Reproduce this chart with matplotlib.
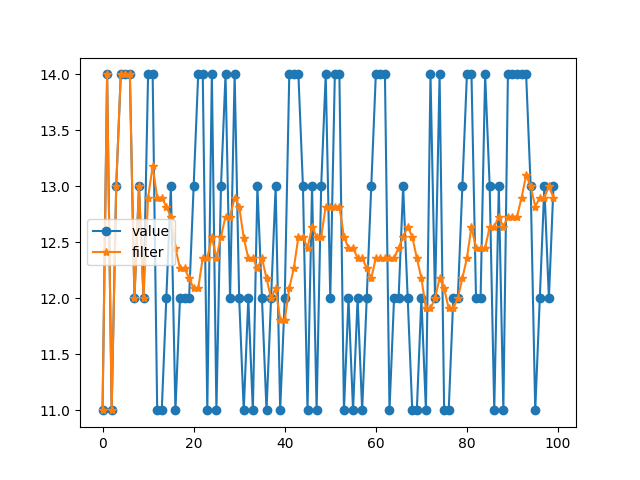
import numpy as np
import matplotlib
matplotlib.use('Agg')
import matplotlib.pyplot as plt

# raw samples
value = [11, 14, 11, 13, 14, 14, 14, 12, 13, 12,
         14, 14, 11, 11, 12, 13, 11, 12, 12, 12,
         13, 14, 14, 11, 14, 11, 13, 14, 12, 14,
         12, 11, 12, 11, 13, 12, 11, 12, 13, 11,
         12, 14, 14, 14, 13, 11, 13, 11, 13, 14,
         12, 14, 14, 11, 12, 11, 12, 11, 12, 13,
         14, 14, 14, 11, 12, 12, 13, 12, 11, 11,
         12, 11, 14, 12, 14, 11, 11, 12, 12, 13,
         14, 14, 12, 12, 14, 13, 11, 13, 11, 14,
         14, 14, 14, 14, 13, 11, 12, 13, 12, 13]

# filtered output
filtered = [11, 14, 11, 13, 14, 14, 14, 12, 13, 12,
            12.9, 13.18, 12.9, 12.9, 12.82, 12.73, 12.45, 12.27, 12.27, 12.18,
            12.09, 12.09, 12.36, 12.36, 12.55, 12.36, 12.55, 12.73, 12.73, 12.9,
            12.82, 12.54, 12.36, 12.36, 12.27, 12.36, 12.18, 12.0, 12.09, 11.81,
            11.81, 12.09, 12.27, 12.55, 12.55, 12.45, 12.64, 12.55, 12.55, 12.82,
            12.82, 12.82, 12.82, 12.55, 12.45, 12.45, 12.36, 12.36, 12.27, 12.18,
            12.36, 12.36, 12.36, 12.36, 12.36, 12.45, 12.55, 12.64, 12.55, 12.36,
            12.18, 11.91, 11.91, 12.0, 12.18, 12.09, 11.91, 11.91, 12.0, 12.18,
            12.36, 12.64, 12.45, 12.45, 12.45, 12.64, 12.64, 12.73, 12.64, 12.73,
            12.73, 12.73, 12.9, 13.1, 13.0, 12.82, 12.9, 12.9, 13.0, 12.9]

x = np.arange(len(value))

plt.figure(figsize=(6.4, 4.8), dpi=100)
plt.plot(x, value, marker='o', label='value')
plt.plot(x, filtered, marker='*', label='filter')
plt.legend(loc='center left')
plt.savefig('out.png', dpi=100)
